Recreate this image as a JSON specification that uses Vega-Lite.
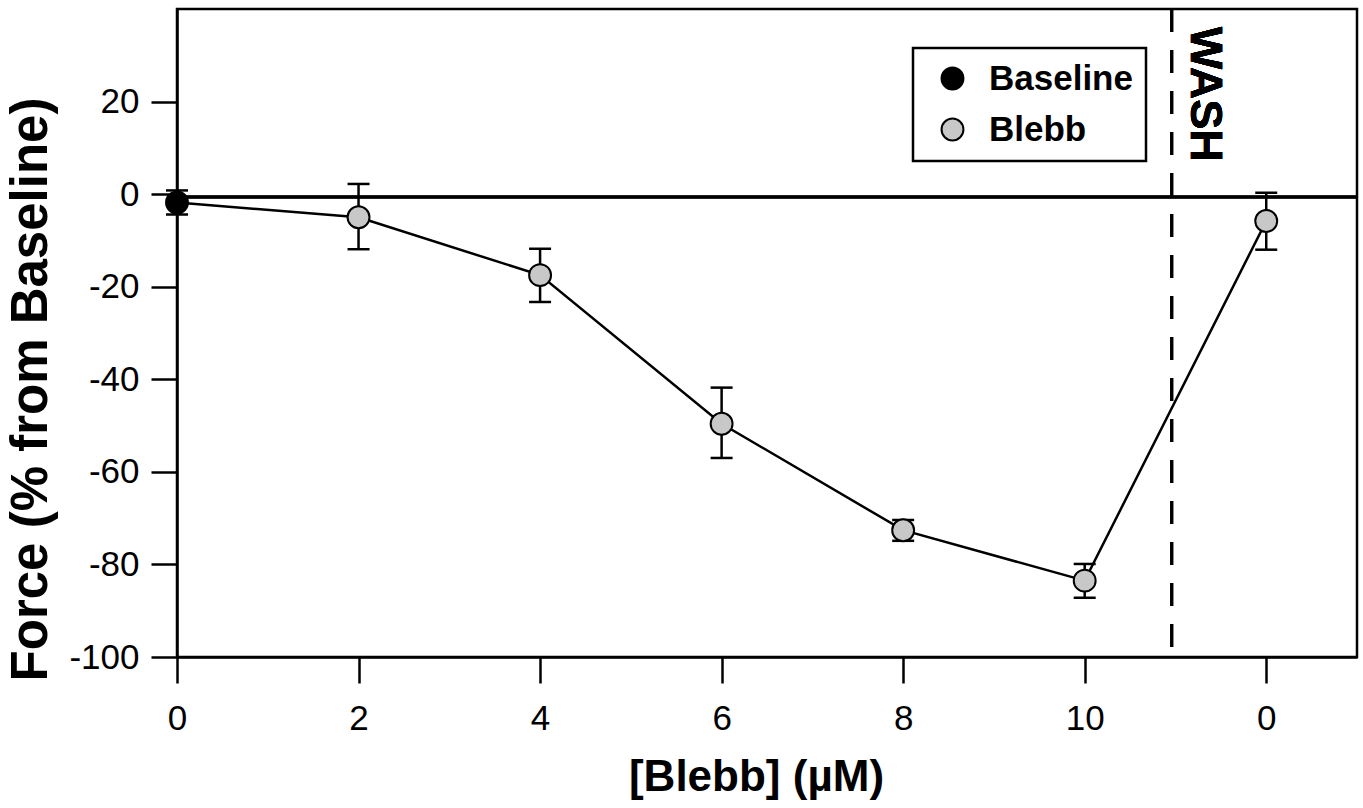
{
  "$schema": "https://vega.github.io/schema/vega-lite/v6.json",
  "autosize": "none",
  "width": 1180,
  "height": 648,
  "padding": {"left": 177, "top": 9, "right": 6, "bottom": 151},
  "background": "white",
  "data": {
    "values": [
      {"conc": 0, "force": -1.8, "lo": -4.4, "hi": 0.8, "group": "Baseline"},
      {"conc": 2, "force": -5.0, "lo": -11.9, "hi": 2.2, "group": "Blebb"},
      {"conc": 4, "force": -17.5, "lo": -23.3, "hi": -11.8, "group": "Blebb"},
      {"conc": 6, "force": -49.6, "lo": -57.0, "hi": -41.8, "group": "Blebb"},
      {"conc": 8, "force": -72.6, "lo": -74.9, "hi": -70.4, "group": "Blebb"},
      {"conc": 10, "force": -83.5, "lo": -87.2, "hi": -79.9, "group": "Blebb"},
      {"conc": 12, "force": -5.8, "lo": -12.0, "hi": 0.3, "group": "Blebb"}
    ]
  },
  "encoding": {
    "x": {
      "field": "conc", "type": "quantitative",
      "scale": {"domain": [0, 13], "nice": false, "zero": false},
      "axis": {
        "values": [0, 2, 4, 6, 8, 10, 12],
        "labelExpr": "datum.value == 12 ? '0' : '' + datum.value",
        "labelFlush": false,
        "title": "[Blebb] (µM)",
        "titleFontSize": 44,
        "titleX": 579,
        "titleY": 120,
        "titleBaseline": "middle",
        "titleAlign": "center",
        "labelPadding": 18
      }
    },
    "y": {
      "field": "force", "type": "quantitative",
      "scale": {"domain": [-100, 40], "nice": false},
      "axis": {
        "values": [-100, -80, -60, -40, -20, 0, 20],
        "labelExpr": "datum.value < 0 ? '-' + abs(datum.value) : '' + datum.value",
        "labelFlush": false,
        "title": "Force (% from Baseline)",
        "titleFontSize": 51,
        "titleX": -146,
        "titleY": 380,
        "titleAngle": -90,
        "titleBaseline": "middle",
        "titleAlign": "center",
        "labelPadding": 12
      }
    }
  },
  "layer": [
    {
      "mark": {"type": "rule", "color": "black", "strokeWidth": 2.5},
      "encoding": {"x": null, "y": {"datum": -0.6}}
    },
    {
      "mark": {"type": "rule", "color": "black", "strokeWidth": 2.5, "strokeDash": [23, 18]},
      "encoding": {"y": null, "x": {"datum": 10.96}}
    },
    {
      "mark": {"type": "line", "color": "black", "strokeWidth": 2.5},
      "encoding": {"order": {"field": "conc"}}
    },
    {
      "mark": {"type": "rule", "color": "black", "strokeWidth": 2.5, "opacity": 1},
      "encoding": {"y": {"field": "lo", "type": "quantitative"}, "y2": {"field": "hi"}}
    },
    {
      "mark": {"type": "tick", "color": "black", "orient": "horizontal", "size": 22, "thickness": 2.5, "opacity": 1},
      "encoding": {"y": {"field": "lo", "type": "quantitative"}}
    },
    {
      "mark": {"type": "tick", "color": "black", "orient": "horizontal", "size": 22, "thickness": 2.5, "opacity": 1},
      "encoding": {"y": {"field": "hi", "type": "quantitative"}}
    },
    {
      "mark": {"type": "point", "filled": true, "stroke": "black", "strokeWidth": 2, "size": 480, "opacity": 1},
      "encoding": {
        "fill": {
          "field": "group", "type": "nominal",
          "scale": {"domain": ["Baseline", "Blebb"], "range": ["black", "#c8c8c8"]},
          "legend": {
            "title": null,
            "orient": "none",
            "legendX": 736,
            "legendY": 39,
            "padding": 13,
            "strokeColor": "black",
            "fillColor": "white",
            "symbolType": "circle",
            "symbolSize": 480,
            "symbolStrokeColor": "black",
            "symbolStrokeWidth": 2,
            "symbolOpacity": 1,
            "symbolOffset": 9,
            "labelOffset": 19,
            "labelFontSize": 35,
            "labelFontWeight": "bold",
            "labelFont": "Liberation Sans",
            "labelColor": "black",
            "rowPadding": 15,
            "encode": {"legend": {"update": {"strokeWidth": {"value": 2.5}}}}
          }
        }
      }
    },
    {
      "mark": {"type": "text", "text": "WASH", "angle": 90, "font": "Liberation Sans", "fontWeight": "bold", "fontSize": 45, "align": "center", "baseline": "middle", "color": "black"},
      "encoding": {"x": {"datum": 11.33}, "y": {"datum": 21.6}}
    }
  ],
  "config": {
    "view": {"stroke": "black", "strokeWidth": 2.5},
    "font": "Liberation Sans",
    "axis": {
      "grid": false,
      "domainColor": "black",
      "domainWidth": 2.5,
      "tickColor": "black",
      "tickWidth": 2.5,
      "tickSize": 26,
      "labelFont": "Liberation Sans",
      "labelFontSize": 35,
      "labelColor": "black",
      "titleFont": "Liberation Sans",
      "titleFontWeight": "bold",
      "titleColor": "black"
    }
  }
}
